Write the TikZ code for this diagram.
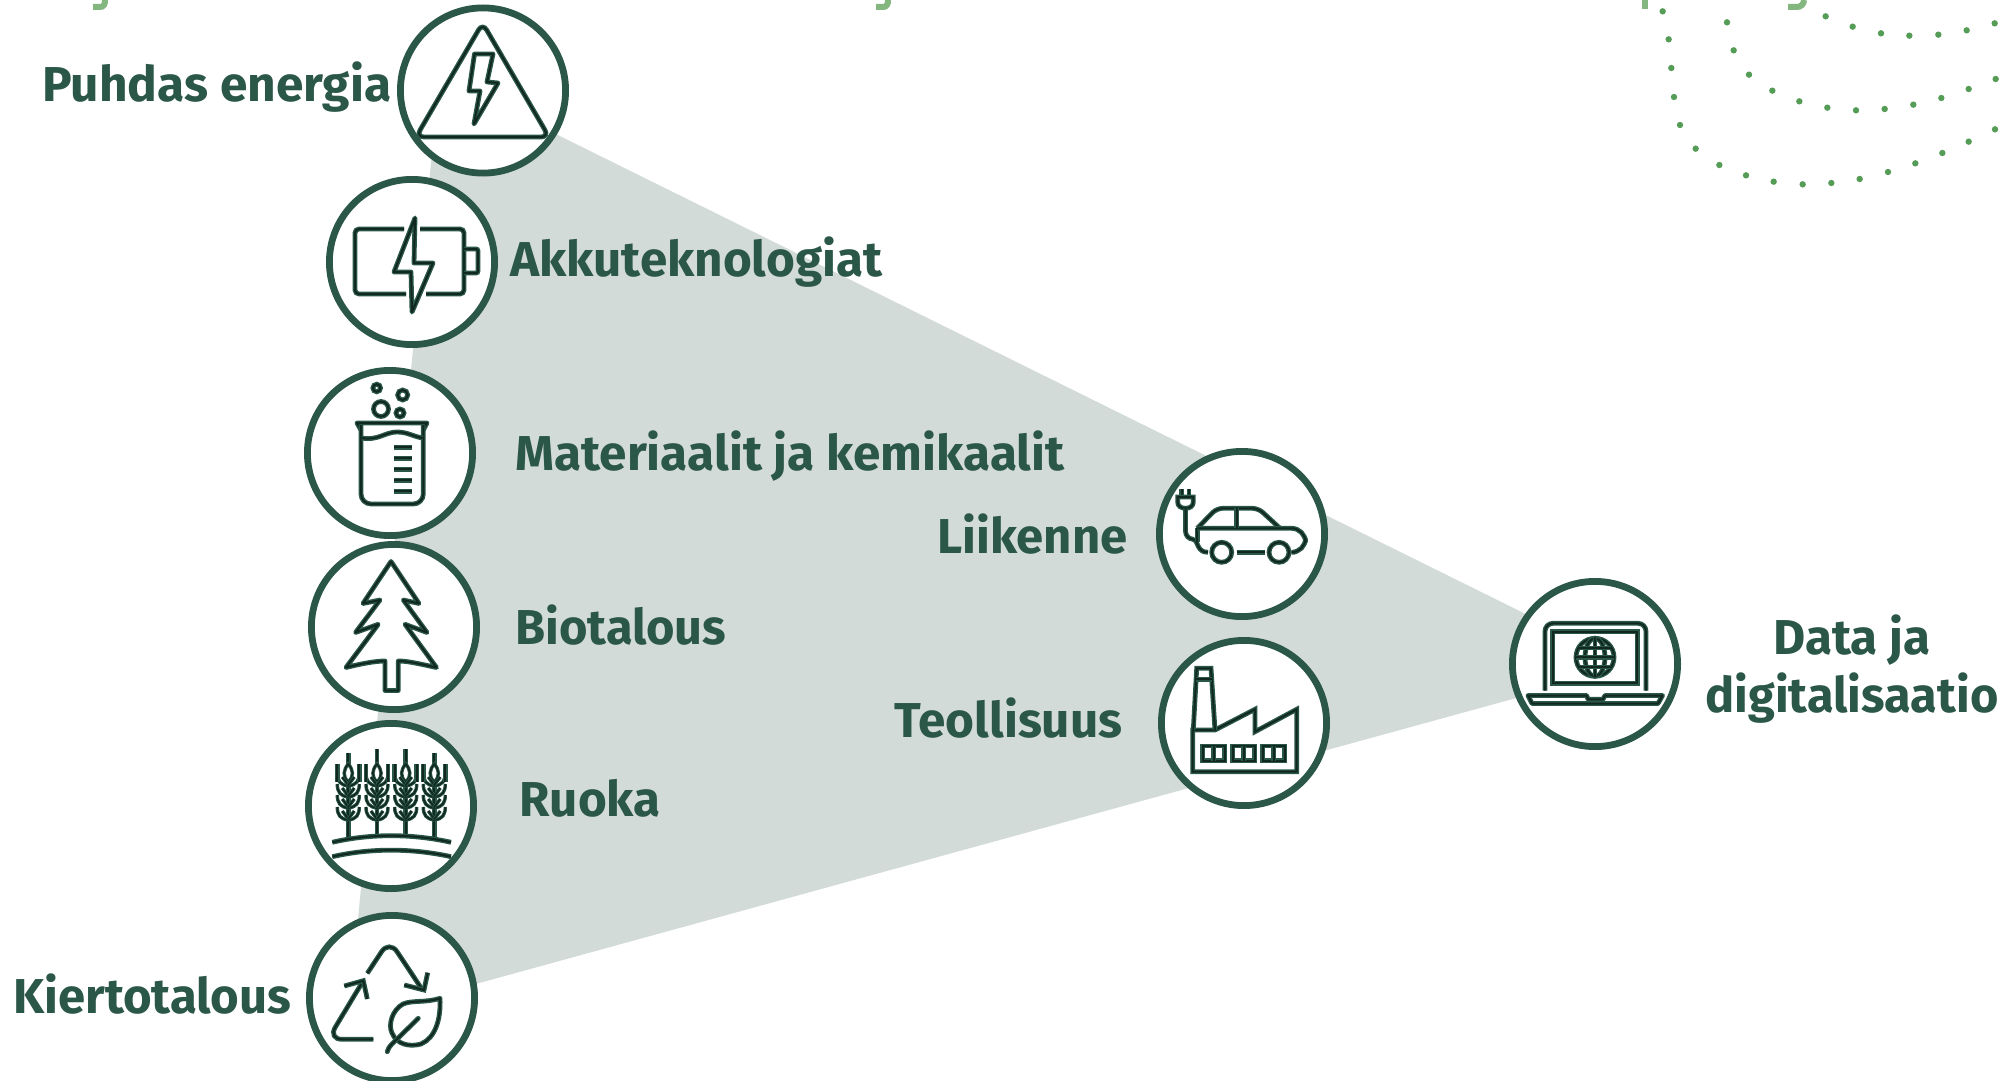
\documentclass[tikz,border=0pt]{standalone}
\usepackage{fontspec}
\setmainfont{Fira Sans}
\definecolor{ringc}{HTML}{2B5748}
\definecolor{corec}{HTML}{10281F}
\definecolor{greyc}{HTML}{D3DBD8}
\definecolor{dotc}{HTML}{559C56}
\definecolor{headc}{HTML}{84B67F}
\tikzset{
  ringnode/.style={circle,draw=ringc,fill=white,line width=3.4pt,minimum size=82.6pt,inner sep=0pt},
  lbl/.style={text=ringc,font=\bfseries\fontsize{24.5pt}{28pt}\selectfont,inner sep=0pt,anchor=base west},
  iconline/.style={draw=ringc,line width=2.4pt,postaction={draw=corec,line width=1pt}},
  thinline/.style={draw=ringc,line width=1.7pt,postaction={draw=corec,line width=.8pt}},
  dotmark/.style={fill=dotc,draw=none},
  headstroke/.style={draw=headc,line width=3pt}
}
\newcommand\wheatstalk[2]{%
  \draw[iconline] (#1,#2)--(#1,837);
  \fill[white,draw=none] (#1,782) .. controls (#1-6,776) and (#1-5,770) .. (#1,764) .. controls (#1+5,770) and (#1+6,776) .. (#1,782);
  \draw[thinline] (#1,782) .. controls (#1-6,776) and (#1-5,770) .. (#1,764) .. controls (#1+5,770) and (#1+6,776) .. (#1,782);
  \foreach \yy in {786,797,808,820}{
    \draw[thinline] (#1,\yy) .. controls (#1-8,\yy-1) and (#1-11,\yy-5) .. (#1-11,\yy-13);
    \draw[thinline] (#1,\yy) .. controls (#1+8,\yy-1) and (#1+11,\yy-5) .. (#1+11,\yy-13);
    \draw[thinline] (#1,\yy-1) -- (#1-6,\yy-9);
    \draw[thinline] (#1,\yy-1) -- (#1+6,\yy-9);
  }
  \draw[iconline] (#1-11,764)--(#1-11,782);
  \draw[iconline] (#1+11,764)--(#1+11,782);
}
\begin{document}
\begin{tikzpicture}[x=.5pt,y=-.5pt]
\path[use as bounding box,clip] (0,0) rectangle (2010,1081);
% clipped remains of the heading
\draw[headstroke] (93,7)--(100,7) .. controls (104,7) and (105,4) .. (105,0);
\draw[headstroke] (876,7)--(883,7) .. controls (887,7) and (888,4) .. (888,0);
\draw[headstroke] (1645,0)--(1645,9);
\draw[headstroke] (1788,7)--(1797,7) .. controls (1801,7) and (1804,4) .. (1804,0);
% dots
\foreach \dx/\dy in {188/34,206/118,214/204,222/291,240/375,287/446,358/495,438/526,521/545,608/553,694/549,779/537,864/516,946/490,1027/459,1106/425,1185/388,
 381/67,401/151,447/224,517/272,598/304,682/323,768/331,854/327,940/314,1024/294,1106/267,1187/237,
 677/49,758/80,843/100,928/107,1015/104,1100/91,1184/70}
  \fill[dotmark] ({1600+\dx/3},{\dy/3}) circle[radius=3.2];
% grey band
\coordinate (pa) at (435,122);
\coordinate (pb) at (483,98);
\coordinate (pc) at (1560,631);
\coordinate (pd) at (1560,686);
\coordinate (pe) at (392,1007);
\coordinate (pf) at (355,950);
\fill[greyc] (pa)--(pb)--(pc)--(pd)--(pe)--(pf)--cycle;
% rings
\node[ringnode] (energy) at (483,90.5) {};
\node[ringnode] (battery) at (412,262) {};
\node[ringnode] (material) at (390,453) {};
\node[ringnode] (bio) at (394,627) {};
\node[ringnode] (food) at (391,806) {};
\node[ringnode] (circular) at (392,998) {};
\node[ringnode] (traffic) at (1242,534) {};
\node[ringnode] (industry) at (1244,723) {};
\node[ringnode] (data) at (1595,664) {};
% energy icon
\draw[iconline,rounded corners=4pt] (482.6,23)--(549,137)--(416,137)--cycle;
\draw[iconline,line join=round] (474.5,54)--(493,54)--(487,82)--(498,83)--(474,124)--(480,91)--(469,91)--cycle;
% battery icon
\draw[iconline,rounded corners=2pt] (404,229)--(355,229)--(355,294)--(406,294);
\draw[iconline,rounded corners=2pt] (420,229)--(464,229)--(464,294)--(426,294);
\draw[iconline,rounded corners=1pt] (464,249)--(478,249)--(478,273)--(464,273);
\draw[iconline,line join=round] (415,218)--(394,272)--(411,272)--(412,312)--(433,263)--(414,263)--cycle;
% beaker icon
\draw[iconline] (376.7,388) circle[radius=3.8];
\draw[iconline] (402.7,395) circle[radius=5];
\draw[iconline] (381,409) circle[radius=7.5];
\draw[iconline] (400,413) circle[radius=4];
\draw[iconline,line join=round] (361,430)--(357,423)--(427,423)--(423.3,430);
\draw[iconline,rounded corners=5pt] (361,425)--(361,504)--(423.3,504)--(423.3,425);
\draw[iconline] (361.5,438) .. controls (378,441) and (385,432) .. (397,432) .. controls (408,432) and (414,437) .. (423,438);
\foreach \ty in {447.3,458.3,469.3,480.3,491.3}
  \draw[iconline] (394,\ty)--(411.7,\ty);
% tree icon
\draw[iconline,line join=round] (391,561.5)--(419,603.5)--(403.3,600)--(427,632.5)--(405,624.3)--(436.5,667.5)
  .. controls (420,664) and (408,661) .. (398.3,661)--(398.3,690.5)--(385,690.5)--(385,661)
  .. controls (375,661) and (360,664) .. (346,667.5)--(378.3,624.3)--(355.5,632.5)--(380,600)--(363,603.5)--cycle;
% wheat icon
\wheatstalk{348.3}{752.7}
\wheatstalk{377}{749.3}
\wheatstalk{405.7}{749.3}
\wheatstalk{434.3}{752.7}
\draw[iconline] (332.3,842.3) .. controls (370,833.5) and (412,833.5) .. (451,842.3);
\draw[iconline] (332.3,856.7) .. controls (370,848) and (412,848) .. (451,856.7);
% recycling icon
\draw[iconline,rounded corners=7pt] (367.3,973.3)--(389.3,940)--(422.5,990);
\draw[iconline] (404.3,985)--(424,990)--(427.7,972.7);
\draw[iconline,rounded corners=7pt] (373.3,1039.3)--(328,1039.3)--(362.7,981.7);
\draw[iconline] (344.3,986)--(363.3,980.7)--(367.3,999);
\draw[iconline,line join=round] (440,998.3) .. controls (425,1003) and (412,1000) .. (403,1004) .. controls (392,1010) and (388,1025) .. (392,1033)
  .. controls (397,1045) and (410,1047) .. (421,1044) .. controls (435,1038) and (441,1020) .. (440,998.3)--cycle;
\draw[iconline,line cap=round] (418.3,1018.3)--(392,1044) .. controls (389,1047) and (388,1049) .. (387.3,1051.7);
% car icon
\draw[iconline] (1181.7,489.3)--(1181.7,497);
\draw[iconline] (1189,489.3)--(1189,497);
\draw[iconline] (1177.7,497)--(1193.3,497)--(1193.3,502) .. controls (1193.3,506) and (1190,508.3) .. (1185.5,508.3) .. controls (1181,508.3) and (1177.7,506) .. (1177.7,502)--cycle;
\draw[iconline,rounded corners=4pt] (1185.5,508.3)--(1185.5,539.3)--(1193.3,539.3);
\draw[iconline] (1193.3,539.3) .. controls (1197,540) and (1197,546) .. (1200,549) .. controls (1203,552) and (1205,552.3) .. (1208,552.3);
\draw[iconline] (1197.3,542)--(1197.3,528.3);
\draw[iconline,rounded corners=3pt] (1197.3,528.3)--(1216.7,508.3)--(1258.3,508.3)--(1280,528.3);
\draw[iconline,rounded corners=7pt] (1197.3,528.3)--(1305.5,528.3)--(1305.5,552.3)--(1295,552.3);
\draw[iconline] (1236.7,508.3)--(1236.7,528.3);
\draw[iconline] (1221.7,552.3) circle[radius=10];
\draw[iconline] (1279,552.3) circle[radius=10];
\draw[iconline] (1236.7,552.3)--(1265,552.3);
% factory icon
\draw[iconline] (1192.7,730)--(1192.7,771.7)--(1296.7,771.7)--(1296.7,709.3)--(1255,731.7)--(1255,709.3)--(1215,730)--cycle;
\draw[iconline] (1193.3,730)--(1196.7,668.3)--(1211,668.3)--(1215,730);
\draw[iconline] (1196,679.3)--(1211.7,679.3);
\foreach \wx in {1202.7,1232.7,1262.7}{
  \draw[iconline] (\wx,746) rectangle ++(22,14.7);
  \draw[iconline] (\wx+11,746)--(\wx+11,760.7);
}
% laptop icon
\draw[iconline,rounded corners=4pt] (1545,690.7)--(1545,623.3)--(1646,623.3)--(1646,690.7);
\draw[iconline] (1552.7,631.7) rectangle (1637.3,683.3);
\draw[iconline] (1595,657.3) circle[radius=19];
\draw[iconline] (1595,657.3) ellipse[x radius=10,y radius=19];
\draw[iconline] (1595,638.3)--(1595,676.3);
\draw[iconline] (1576,657.3)--(1614,657.3);
\draw[iconline] (1579,648)--(1611,648);
\draw[iconline] (1579,667)--(1611,667);
\draw[iconline,line join=round] (1528,695.5)--(1586.7,695.5)--(1588,699.3)--(1603,699.3)--(1605,695.5)--(1662.5,695.5)--(1658,703.5)--(1532,703.5)--cycle;
% labels
\node[lbl] (t1) at (42,102) {\resizebox{174.5pt}{\height}{Puhdas energia}};
\node[lbl] (t2) at (510,277) {\resizebox{186pt}{\height}{Akkuteknologiat}};
\node[lbl] (t3) at (515,470) {\resizebox{274.5pt}{\height}{Materiaalit ja kemikaalit}};
\node[lbl] (t4) at (515,644) {\resizebox{105.5pt}{\height}{Biotalous}};
\node[lbl] (t5) at (519,816) {\resizebox{70.5pt}{\height}{Ruoka}};
\node[lbl] (t6) at (13,1013) {\resizebox{139pt}{\height}{Kiertotalous}};
\node[lbl] (t7) at (937,553) {\resizebox{95pt}{\height}{Liikenne}};
\node[lbl] (t8) at (894,737) {\resizebox{114pt}{\height}{Teollisuus}};
\node[lbl] (t9) at (1773,654) {\resizebox{78.5pt}{\height}{Data ja}};
\node[lbl] (t10) at (1705,712) {\resizebox{146.5pt}{\height}{digitalisaatio}};
\end{tikzpicture}
\end{document}
